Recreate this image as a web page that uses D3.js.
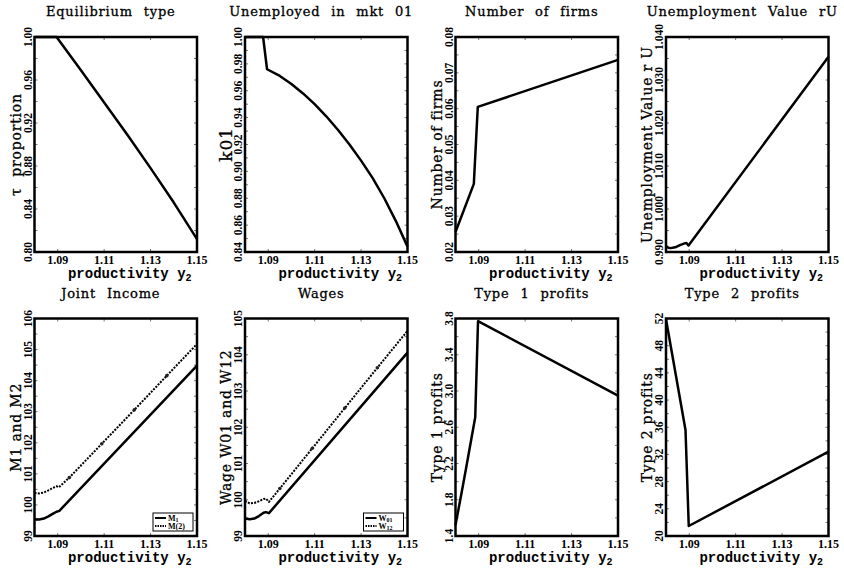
<!DOCTYPE html>
<html>
<head>
<meta charset="utf-8">
<script src="https://d3js.org/d3.v7.min.js"></script>
<style>
    body { margin: 0; background: #fff; }
    .title { font-family: 'DejaVu Serif', serif; font-size: 13px; letter-spacing: 0.8px; word-spacing: 6px; stroke: #000; stroke-width: 0.3px; }
    .xlab { font-family: 'Liberation Mono', monospace; font-size: 14px; font-weight: bold; }
    .ylab { font-family: 'DejaVu Serif', serif; font-size: 14px; letter-spacing: 0.8px; stroke: #000; stroke-width: 0.3px; white-space: pre; }
    .tick { font-family: 'Liberation Serif', serif; font-size: 12px; font-weight: bold; }
    .ytick { font-family: 'Liberation Serif', serif; font-size: 11.5px; font-weight: bold; }
    .line { fill: none; stroke: #000; stroke-width: 2.5px; stroke-linejoin: round; }
    .dotted { stroke-width: 2px; stroke-dasharray: 2,1.3; }
    .frame { fill: none; stroke: #000; stroke-width: 2.5px; }
    .legend text { font-family: 'Liberation Serif', serif; font-size: 8px; font-weight: bold; }
</style>
</head>
<body>
<svg id="chart" width="844" height="572"></svg>
<script>
// x axis shared by all panels
const xDomain = [1.08, 1.15]
const xTickVals = [1.09, 1.11, 1.13, 1.15]

// Equilibrium type
const tauX = [1.08, 1.0895, 1.10, 1.11, 1.12, 1.13, 1.14, 1.15]
const tauY = [1.000, 1.000, 0.969, 0.939, 0.909, 0.878, 0.846, 0.812]

// Unemployed in mkt 01
const k01X = [1.08, 1.0878, 1.0895, 1.095, 1.10, 1.105, 1.11, 1.115, 1.12, 1.125, 1.13, 1.135, 1.14, 1.145, 1.15]
const k01Y = [1.000, 1.000, 0.976, 0.971, 0.965, 0.958, 0.950, 0.941, 0.931, 0.920, 0.908, 0.895, 0.880, 0.863, 0.844]

// Number of firms
const firmsX = [1.08, 1.0879, 1.0896, 1.15]
const firmsY = [0.0256, 0.0390, 0.0605, 0.0736]

// Unemployment value rU
const rUX = [1.08, 1.081, 1.082, 1.084, 1.086, 1.088, 1.0888, 1.0897, 1.15]
const rUY = [0.9914, 0.9910, 0.9909, 0.9911, 0.9916, 0.9920, 0.9921, 0.9915, 1.0354]

// Joint income
const m1X = [1.08, 1.082, 1.084, 1.086, 1.088, 1.0895, 1.0907, 1.15]
const m1Y = [99.54, 99.53, 99.56, 99.63, 99.72, 99.78, 99.81, 104.48]
const m2X = [1.08, 1.082, 1.084, 1.086, 1.088, 1.0895, 1.0905, 1.095, 1.109, 1.123, 1.137, 1.15]
const m2Y = [100.38, 100.37, 100.40, 100.47, 100.55, 100.60, 100.57, 100.88, 101.97, 103.06, 104.16, 105.18]

// Wages
const w01X = [1.08, 1.082, 1.084, 1.086, 1.088, 1.089, 1.0903, 1.15]
const w01Y = [99.48, 99.46, 99.48, 99.55, 99.64, 99.66, 99.63, 104.06]
const w12X = [1.08, 1.082, 1.084, 1.086, 1.088, 1.089, 1.0903, 1.095, 1.109, 1.123, 1.137, 1.15]
const w12Y = [99.97, 99.90, 99.91, 99.96, 100.02, 100.03, 99.94, 100.31, 101.42, 102.53, 103.64, 104.66]

// points on the dotted curves that carry a marker
const markX = [1.095, 1.109, 1.123, 1.137]

// Type 1 profits
const p1X = [1.08, 1.0825, 1.0845, 1.0885, 1.0897, 1.15]
const p1Y = [1.52, 1.86, 2.14, 2.71, 3.77, 2.95]

// Type 2 profits
const p2X = [1.08, 1.0884, 1.0898, 1.15]
const p2Y = [51.9, 35.6, 21.47, 32.4]

const zip = (xs, ys) => xs.map((x, i) => ({x: x, y: ys[i]}))

const panels = [
    {title: 'Equilibrium type', ylab: 'τ  proportion', dom: [0.80, 1.00], step: 0.04, fmt: '.2f',
     series: [{d: zip(tauX, tauY)}]},
    {title: 'Unemployed in mkt 01', ylab: 'k01', dom: [0.84, 1.00], step: 0.02, fmt: '.2f', big: true,
     series: [{d: zip(k01X, k01Y)}]},
    {title: 'Number of firms', ylab: 'Number of firms', dom: [0.02, 0.08], step: 0.01, fmt: '.2f',
     series: [{d: zip(firmsX, firmsY)}]},
    {title: 'Unemployment Value rU', ylab: 'Unemployment Value r U', dom: [0.990, 1.040], step: 0.01, fmt: '.3f',
     series: [{d: zip(rUX, rUY)}]},
    {title: 'Joint Income', ylab: 'M1 and M2', dom: [99, 106], step: 1, fmt: 'd',
     series: [{d: zip(m1X, m1Y)}, {d: zip(m2X, m2Y), dotted: true}],
     legend: [['M', '1'], ['M(2)', '']]},
    {title: 'Wages', ylab: 'Wage W01 and W12', dom: [99, 105], step: 1, fmt: 'd',
     series: [{d: zip(w01X, w01Y)}, {d: zip(w12X, w12Y), dotted: true}],
     legend: [['W', '01'], ['W', '12']]},
    {title: 'Type 1 profits', ylab: 'Type 1 profits', dom: [1.4, 3.8], step: 0.4, fmt: '.1f',
     series: [{d: zip(p1X, p1Y)}]},
    {title: 'Type 2 profits', ylab: 'Type 2 profits', dom: [20, 52], step: 4, fmt: 'd',
     series: [{d: zip(p2X, p2Y)}]}
]

const svg = d3.select('#chart')

panels.forEach((p, i) => {
    const col = i % 4, row = Math.floor(i / 4)
    const left = 34.5 + col * 210.5, right = left + 162.5
    const top = row ? 318.5 : 37, bottom = row ? 536 : 252

    const x = d3.scaleLinear().domain(xDomain).range([left, right])
    const y = d3.scaleLinear().domain(p.dom).range([bottom, top])
    const g = svg.append('g')

    // title
    g.append('text').attr('class', 'title')
        .attr('x', (left + right) / 2 - 5).attr('y', top - 21)
        .attr('text-anchor', 'middle').text(p.title)

    // tiny inside ticks on all sides
    const n = Math.round((p.dom[1] - p.dom[0]) / p.step)
    const yVals = d3.range(n + 1).map(k => p.dom[0] + k * p.step)
    const minor = d3.range(2 * n + 1).map(k => p.dom[0] + k * p.step / 2)
    g.selectAll('.mt').data(minor).enter().append('path')
        .attr('d', v => `M${left},${y(v)}h3M${right},${y(v)}h-3`)
        .attr('stroke', '#777').attr('stroke-width', 1)
    g.selectAll('.xt').data(xTickVals).enter().append('path')
        .attr('d', v => `M${x(v)},${bottom}v-3M${x(v)},${top}v3`)
        .attr('stroke', '#777').attr('stroke-width', 1)

    const f = d3.format(p.fmt)
    g.selectAll('.yl').data(yVals).enter().append('text')
        .attr('class', 'ytick')
        .attr('transform', v => `translate(${left - 7},${y(v)}) rotate(-90)`)
        .attr('text-anchor', 'middle').attr('dominant-baseline', 'central')
        .text(v => f(v))

    g.selectAll('.xl').data(xTickVals).enter().append('text')
        .attr('class', 'tick')
        .attr('x', v => x(v)).attr('y', bottom + 12)
        .attr('text-anchor', 'middle').text(v => v.toFixed(2))

    // x label
    const xl = g.append('text').attr('class', 'xlab')
        .attr('x', (left + right) / 2 + 14).attr('y', bottom + 26)
        .attr('text-anchor', 'middle')
    xl.append('tspan').text('productivity y')
    xl.append('tspan').attr('font-size', '10px').attr('dy', 3).text('2')

    // y label
    g.append('text').attr('class', 'ylab')
        .attr('transform', `translate(${left - 19},${(top + bottom) / 2}) rotate(-90)`)
        .attr('text-anchor', 'middle').attr('dominant-baseline', 'central')
        .style('font-size', p.big ? '17px' : null)
        .text(p.ylab)

    // data
    const line = d3.line().x(d => x(d.x)).y(d => y(d.y))
    p.series.forEach(s => {
        g.append('path').datum(s.d)
            .attr('class', s.dotted ? 'line dotted' : 'line')
            .attr('d', line)
        if (s.dotted) {
            g.selectAll('.mk').data(s.d.filter(d => markX.includes(d.x))).enter()
                .append('circle')
                .attr('cx', d => x(d.x)).attr('cy', d => y(d.y))
                .attr('r', 1.8).attr('fill', '#222')
        }
    })

    g.append('rect').attr('class', 'frame')
        .attr('x', left).attr('y', top)
        .attr('width', right - left).attr('height', bottom - top)

    // legend
    if (p.legend) {
        const lw = 40, lh = 18
        const lx = right - 4 - lw, ly = bottom - 5 - lh
        const lg = g.append('g').attr('class', 'legend')
        lg.append('rect').attr('x', lx).attr('y', ly).attr('width', lw).attr('height', lh)
            .attr('fill', '#fff').attr('stroke', '#000').attr('stroke-width', 1)
        p.legend.forEach((l, k) => {
            const yy = ly + 5 + k * 8
            lg.append('line').attr('x1', lx + 2).attr('x2', lx + 13).attr('y1', yy).attr('y2', yy)
                .attr('stroke', '#000').attr('stroke-width', 2)
                .attr('stroke-dasharray', k ? '1.5,1' : null)
            const t = lg.append('text').attr('x', lx + 15).attr('y', yy + 2.5)
            t.append('tspan').text(l[0])
            if (l[1]) t.append('tspan').attr('dy', 1.5).attr('font-size', '6px').text(l[1])
        })
    }
})
</script>
</body>
</html>
